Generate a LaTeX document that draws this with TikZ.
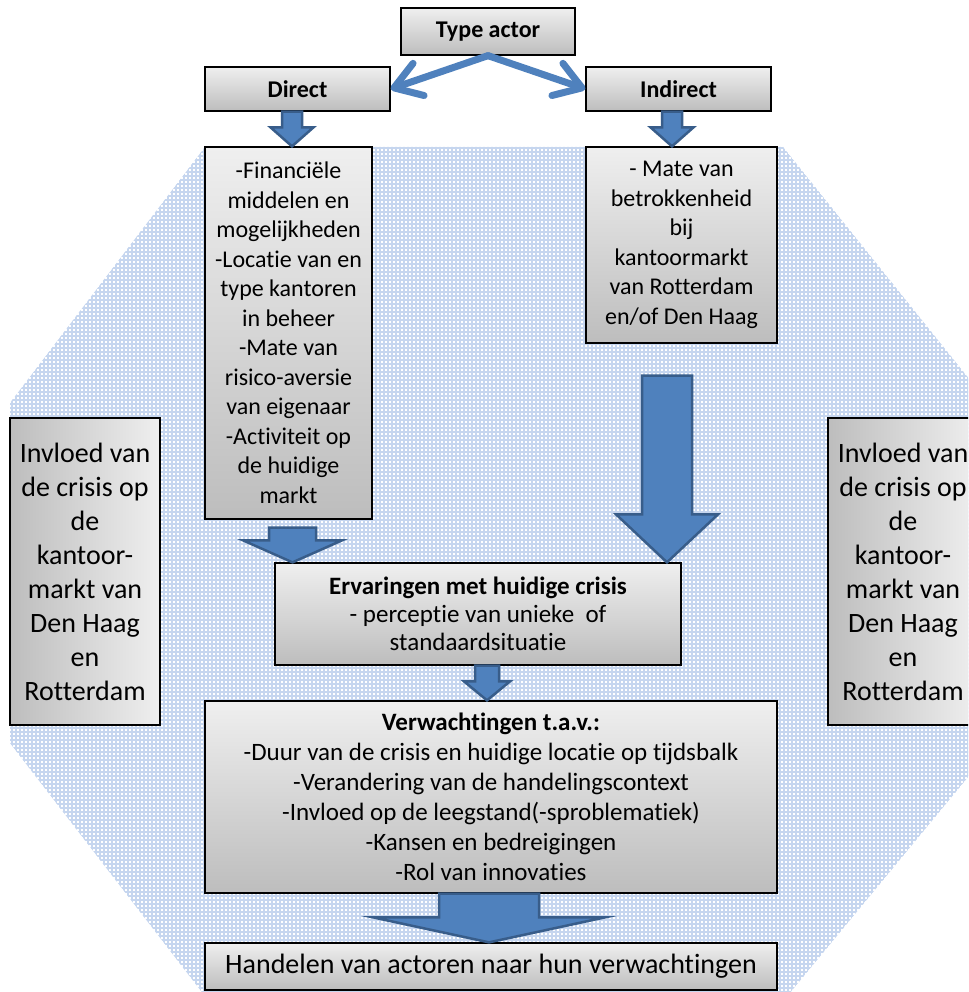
\documentclass[tikz,border=0pt]{standalone}
\usepackage{fontspec}
\setmainfont{Carlito}[Ligatures=NoCommon, RawFeature={-liga;-clig}]
\usetikzlibrary{arrows.meta,calc}
\definecolor{ablue}{HTML}{4F81BD}
\definecolor{adark}{HTML}{385D8A}
\definecolor{gridblue}{HTML}{C6D6EF}
\definecolor{gtop}{HTML}{EFEFEF}
\definecolor{gbot}{HTML}{BDBDBD}
% from, to, cx, halfshaft, halfhead, headlen, startgap
\newcommand{\fatarrow}[7]{%
  \path[fatarr] let \p1=(#1.south), \p2=(#2.north) in
  (#3pt-#4pt, \y1-#7pt) -- (#3pt+#4pt, \y1-#7pt) -- (#3pt+#4pt, \y2+#6pt) --
  (#3pt+#5pt, \y2+#6pt) -- (#3pt, \y2) -- (#3pt-#5pt, \y2+#6pt) --
  (#3pt-#4pt, \y2+#6pt) -- cycle;}
\tikzset{
  box/.style={draw=black, line width=1.3pt, top color=gtop, bottom color=gbot,
    align=center, inner sep=0pt, font=\fontsize{24}{29.5}\selectfont},
  sidebox/.style={box, left color=gbot, right color=gtop,
    font=\fontsize{28}{34}\selectfont},
  headbox/.style={box, font=\bfseries\fontsize{24}{29}\selectfont},
  fatarr/.style={fill=ablue, draw=adark, line width=2.5pt, line join=miter},
  thinarr/.style={draw=ablue, line width=7pt, line cap=round,
    -{Straight Barb[length=26pt, width=34pt, line cap=round, line join=round]}}
}
\begin{document}
\begin{tikzpicture}[x=1pt, y=-1pt]
\useasboundingbox (0,0) rectangle (968,992);
\begin{scope}
\clip (0,0) rectangle (968,992);
% octagon background with grid
\begin{scope}
\clip (205,147) -- (783,147) -- (978,390) -- (978,765) -- (784,1000) --
      (208,1000) -- (10,743) -- (10,403) -- cycle;
\fill[white] (0,140) rectangle (980,1000);
\foreach \i in {0,4,...,980} {\draw[gridblue, line width=1.1pt] (\i,140) -- (\i,1000);}
\foreach \j in {140,144,...,1000} {\draw[gridblue, line width=1.1pt] (0,\j) -- (980,\j);}
\end{scope}
% boxes
\node[headbox, minimum width=174, minimum height=47] (type) at (488,31.5) {Type actor};
\node[headbox, minimum width=185, minimum height=44] (direct) at (297.5,89) {Direct};
\node[headbox, minimum width=185, minimum height=44] (indirect) at (678.5,89) {Indirect};
\node[box, minimum width=167, minimum height=372] (dcont) at (288.5,333)
  {-Financiële\\middelen en\\mogelijkheden\\-Locatie van en\\type kantoren\\in beheer\\-Mate van\\risico-aversie\\van eigenaar\\-Activiteit op\\de huidige\\markt};
\node[box, minimum width=191, minimum height=196] (icont) at (681.5,245)
  {- Mate van\\betrokkenheid\\bij\\kantoormarkt\\van Rotterdam\\en/of Den Haag};
\node[sidebox, minimum width=150, minimum height=307] (lside) at (85,571.5)
  {Invloed van\\de crisis op\\de\\kantoor-\\markt van\\Den Haag\\en\\Rotterdam};
\node[sidebox, minimum width=150, minimum height=307] (rside) at (903,571.5)
  {Invloed van\\de crisis op\\de\\kantoor-\\markt van\\Den Haag\\en\\Rotterdam};
\node[box, minimum width=406, minimum height=102, font=\fontsize{25}{28}\selectfont] (erv) at (478,614)
  {\textbf{Ervaringen met huidige crisis}\\- perceptie van unieke \ of\\standaardsituatie};
\node[box, minimum width=572, minimum height=192, font=\fontsize{25}{30}\selectfont] (verw) at (491,797)
  {\textbf{Verwachtingen t.a.v.:}\\-Duur van de crisis en huidige locatie op tijdsbalk\\-Verandering van de handelingscontext\\-Invloed op de leegstand(-sproblematiek)\\-Kansen en bedreigingen\\-Rol van innovaties};
\node[box, minimum width=572, minimum height=47, font=\fontsize{28}{32}\selectfont] (hand) at (491,966.5)
  {Handelen van actoren naar hun verwachtingen};
% thin arrows
\draw[thinarr] (type.south) -- (direct.east);
\draw[thinarr] (type.south) -- (indirect.west);
% block arrows
\fatarrow{direct}{dcont}{292}{10}{21.5}{19}{0}
\fatarrow{indirect}{icont}{672}{10}{21.5}{19}{0}
\fatarrow{icont}{erv}{667}{25}{51}{48}{32}
\fatarrow{dcont}{erv}{292.5}{23.5}{49.5}{22}{8}
\fatarrow{erv}{verw}{487}{12}{23}{19}{0}
\fatarrow{verw}{hand}{489}{50}{116}{25}{0}
\end{scope}
\end{tikzpicture}
\end{document}
